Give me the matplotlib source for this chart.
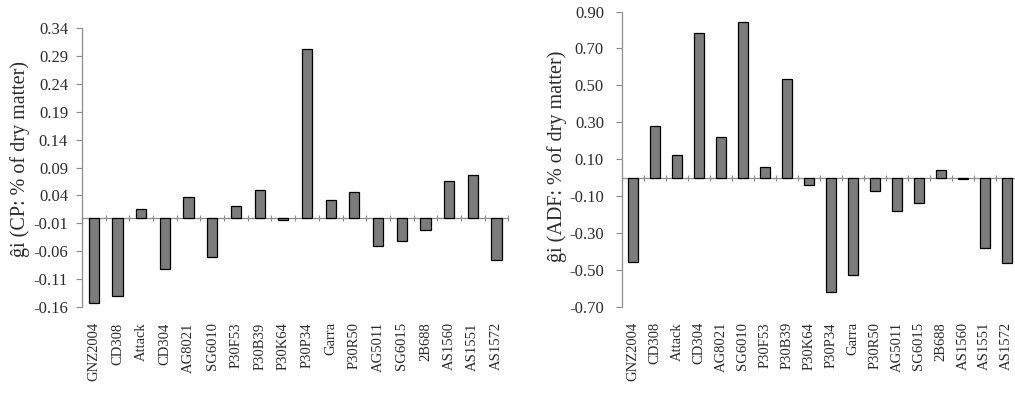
import numpy as np
import matplotlib
matplotlib.use('Agg')
import matplotlib.pyplot as plt

matplotlib.rc('font', family=['Liberation Serif', 'DejaVu Serif'])

hybrids = ['GNZ2004', 'CD308', 'Attack', 'CD304', 'AG8021', 'SG6010',
           'P30F53', 'P30B39', 'P30K64', 'P30P34', 'Garra', 'P30R50',
           'AG5011', 'SG6015', '2B688', 'AS1560', 'AS1551', 'AS1572']

cp = [-0.152, -0.140, 0.016, -0.092, 0.038, -0.070,
      0.021, 0.049, -0.004, 0.303, 0.032, 0.046,
      -0.050, -0.041, -0.022, 0.065, 0.076, -0.075]

adf = [-0.458, 0.280, 0.124, 0.786, 0.222, 0.844,
       0.059, 0.533, -0.042, -0.620, -0.530, -0.074,
       -0.179, -0.139, 0.041, -0.009, -0.383, -0.465]

cp_ticks = [-0.16, -0.11, -0.06, -0.01, 0.04, 0.09, 0.14, 0.19, 0.24, 0.29, 0.34]
adf_ticks = [-0.70, -0.50, -0.30, -0.10, 0.10, 0.30, 0.50, 0.70, 0.90]

axis_col = '#8c8c8c'
text_col = '#2b2b2b'


def gcaPanel(fig, rect, vals, yticks, ylabel, label_xy, ypad):
    ax = fig.add_axes(rect)
    x = np.arange(len(hybrids))
    ax.bar(x, vals, width=0.43, color='#7c7c7c', edgecolor='black', linewidth=0.9, zorder=3)
    ax.set_xlim(-0.5, len(hybrids) - 0.5)
    ymin, ymax = yticks[0], yticks[-1]
    ax.set_ylim(ymin, ymax)
    ax.set_yticks(yticks)
    ax.set_yticklabels(['{:.2f}'.format(t) for t in yticks], fontsize=12, color=text_col)
    ax.set_xticks(x)
    ax.set_xticklabels(hybrids, rotation=90, fontsize=10.5, color=text_col, va='top')
    ax.tick_params(axis='x', length=0, pad=11)
    ax.tick_params(axis='y', direction='out', length=4, width=0.8, color=axis_col, pad=ypad)
    for s in ['top', 'right', 'bottom']:
        ax.spines[s].set_visible(False)
    ax.spines['left'].set_color(axis_col)
    ax.spines['left'].set_linewidth(0.9)

    # zero line with category separators
    frac = (0 - ymin) / (ymax - ymin)
    zx = ax.secondary_xaxis(frac)
    zx.set_xticks(np.arange(len(hybrids) + 1) - 0.5)
    zx.set_xticklabels([])
    zx.tick_params(direction='inout', length=5, width=0.8, color=axis_col)
    zx.spines['bottom'].set_color(axis_col)
    zx.spines['bottom'].set_linewidth(0.9)

    ax.set_ylabel(ylabel, fontsize=14.5, color=text_col)
    ax.yaxis.set_label_coords(*label_xy)
    return ax


fig = plt.figure(figsize=(10.15, 4.0), dpi=100)
gcaPanel(fig, [0.0808, 0.2325, 0.42, 0.6975], cp, cp_ticks,
         'ĝi (CP: % of dry matter)', (-0.122, 0.53), 6)
gcaPanel(fig, [0.6128, 0.233, 0.39, 0.738], adf, adf_ticks,
         'ĝi (ADF: % of dry matter)', (-0.14, 0.51), 9)

plt.savefig('out.png', dpi=100)
